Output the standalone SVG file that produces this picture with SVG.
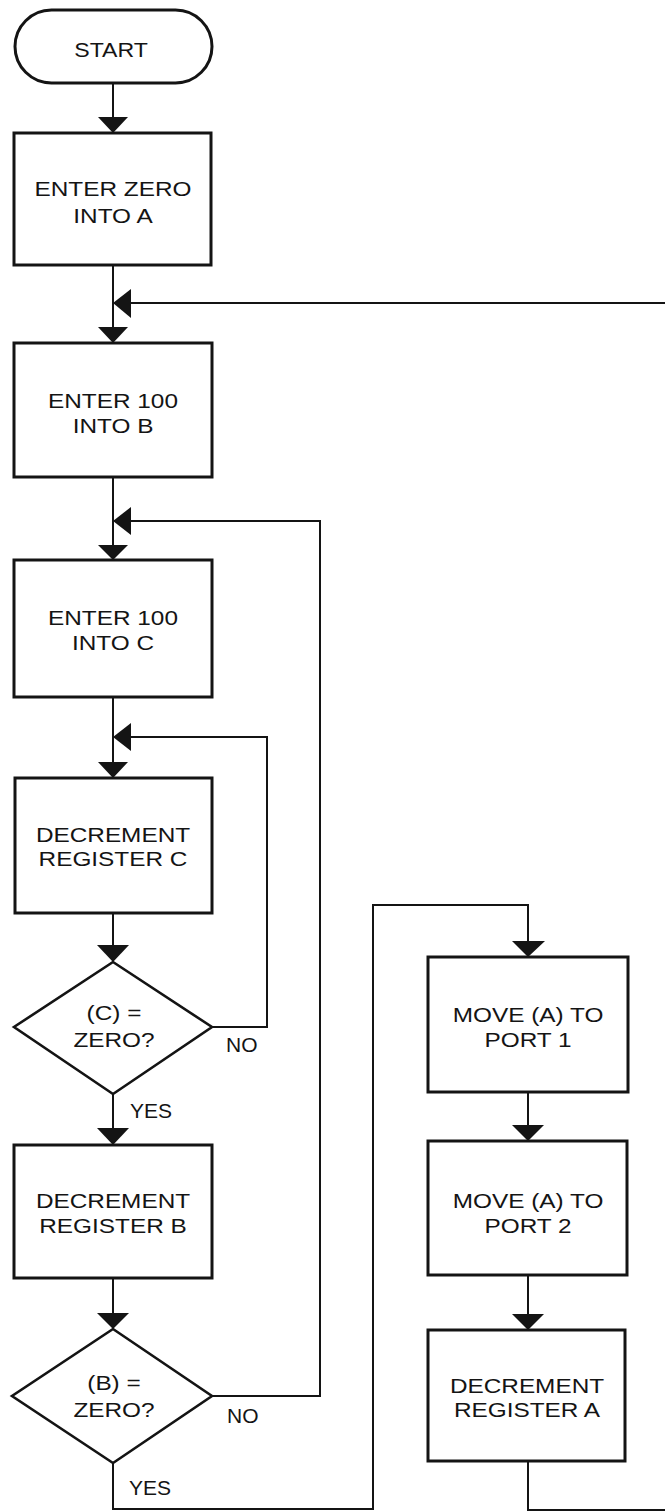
<svg xmlns="http://www.w3.org/2000/svg" width="665" height="1512" viewBox="0 0 665 1512">
<style>
.box{fill:#fff;stroke:#141414;stroke-width:3}
.dia{fill:#fff;stroke:#141414;stroke-width:2.6}
.ln{fill:none;stroke:#141414;stroke-width:2}
.ah{fill:#141414;stroke:none}
text{font-family:"Liberation Sans",Arial,Helvetica,sans-serif;font-size:21px;fill:#141414}
.c{text-anchor:middle}
</style>
<rect x="0" y="0" width="665" height="1512" fill="#fff"/>
<g id="connectors">
<line class="ln" x1="113" y1="83" x2="113" y2="118"/>
<polygon class="ah" points="98,117 128,117 113,133"/>
<line class="ln" x1="113" y1="265" x2="113" y2="328"/>
<polygon class="ah" points="98,327 128,327 113,343"/>
<polyline class="ln" points="130,303 665,303"/>
<polygon class="ah" points="113,303 131,289 131,318"/>
<line class="ln" x1="113" y1="477" x2="113" y2="546"/>
<polygon class="ah" points="98,545 128,545 113,560"/>
<polyline class="ln" points="212,1396 320,1396 320,521 130,521"/>
<polygon class="ah" points="113,521 131,507 131,535"/>
<line class="ln" x1="113" y1="697" x2="113" y2="763"/>
<polygon class="ah" points="98,762 128,762 113,778"/>
<polyline class="ln" points="212,1027 267,1027 267,737 130,737"/>
<polygon class="ah" points="113,737 131,723 131,751"/>
<line class="ln" x1="113" y1="913" x2="113" y2="946"/>
<polygon class="ah" points="97,945 129,945 113,962"/>
<line class="ln" x1="113" y1="1094" x2="113" y2="1129"/>
<polygon class="ah" points="97,1128 129,1128 113,1145"/>
<line class="ln" x1="113" y1="1278" x2="113" y2="1314"/>
<polygon class="ah" points="97,1313 129,1313 113,1329"/>
<polyline class="ln" points="113,1463 113,1509 373,1509 373,905 528,905 528,942"/>
<polygon class="ah" points="512,941 545,941 528,957"/>
<line class="ln" x1="528" y1="1092" x2="528" y2="1126"/>
<polygon class="ah" points="512,1125 544,1125 528,1141"/>
<line class="ln" x1="528" y1="1275" x2="528" y2="1315"/>
<polygon class="ah" points="512,1314 544,1314 528,1330"/>
<polyline class="ln" points="528,1461 528,1510 665,1510"/>
<text x="226" y="1052">NO</text>
<text x="130" y="1118">YES</text>
<text x="227" y="1423">NO</text>
<text x="129" y="1495">YES</text>
</g>
<g id="start">
<rect class="box" x="15" y="10" width="197" height="73" rx="36.5"/>
<text class="c" transform="matrix(1.1 0 0 1 111 0)" x="0" y="57">START</text>
</g>
<g id="enter-zero-a">
<rect class="box" x="14" y="133" width="197" height="132"/>
<text class="c" transform="matrix(1.16 0 0 1 113 0)"><tspan x="0" y="196">ENTER ZERO</tspan><tspan x="0" y="223">INTO A</tspan></text>
</g>
<g id="enter-100-b">
<rect class="box" x="14" y="343" width="198" height="134"/>
<text class="c" transform="matrix(1.16 0 0 1 113 0)"><tspan x="0" y="408">ENTER 100</tspan><tspan x="0" y="433">INTO B</tspan></text>
</g>
<g id="enter-100-c">
<rect class="box" x="14" y="560" width="198" height="137"/>
<text class="c" transform="matrix(1.16 0 0 1 113 0)"><tspan x="0" y="625">ENTER 100</tspan><tspan x="0" y="650">INTO C</tspan></text>
</g>
<g id="decrement-c">
<rect class="box" x="15" y="778" width="197" height="135"/>
<text class="c" transform="matrix(1.16 0 0 1 113 0)"><tspan x="0" y="842">DECREMENT</tspan><tspan x="0" y="866">REGISTER C</tspan></text>
</g>
<g id="c-zero">
<polygon class="dia" points="113,962 212,1027 113,1094 14,1027"/>
<text class="c" transform="matrix(1.16 0 0 1 114 0)"><tspan x="0" y="1020">(C) =</tspan><tspan x="0" y="1047">ZERO?</tspan></text>
</g>
<g id="decrement-b">
<rect class="box" x="14" y="1145" width="198" height="133"/>
<text class="c" transform="matrix(1.16 0 0 1 113 0)"><tspan x="0" y="1208">DECREMENT</tspan><tspan x="0" y="1233">REGISTER B</tspan></text>
</g>
<g id="b-zero">
<polygon class="dia" points="113,1329 212,1396 113,1463 12,1396"/>
<text class="c" transform="matrix(1.16 0 0 1 114 0)"><tspan x="0" y="1390">(B) =</tspan><tspan x="0" y="1417">ZERO?</tspan></text>
</g>
<g id="move-port-1">
<rect class="box" x="428" y="957" width="200" height="135"/>
<text class="c" transform="matrix(1.16 0 0 1 528 0)"><tspan x="0" y="1022">MOVE (A) TO</tspan><tspan x="0" y="1047">PORT 1</tspan></text>
</g>
<g id="move-port-2">
<rect class="box" x="428" y="1141" width="199" height="134"/>
<text class="c" transform="matrix(1.16 0 0 1 528 0)"><tspan x="0" y="1208">MOVE (A) TO</tspan><tspan x="0" y="1233">PORT 2</tspan></text>
</g>
<g id="decrement-a">
<rect class="box" x="428" y="1330" width="197" height="131"/>
<text class="c" transform="matrix(1.16 0 0 1 527 0)"><tspan x="0" y="1393">DECREMENT</tspan><tspan x="0" y="1417">REGISTER A</tspan></text>
</g>
</svg>
